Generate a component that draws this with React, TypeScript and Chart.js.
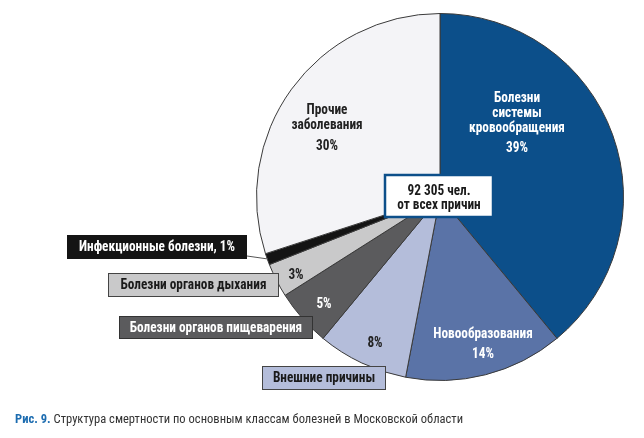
import React, { useEffect, useRef } from "react";
import { Chart, registerables } from "chart.js";
Chart.register(...registerables);

const categories = [
  "Болезни системы кровообращения",
  "Новообразования",
  "Внешние причины",
  "Болезни органов пищеварения",
  "Болезни органов дыхания",
  "Инфекционные болезни",
  "Прочие заболевания",
];
const shares = [39, 14, 8, 5, 3, 1, 30];
const sliceColors = ["#0c4f8a", "#5a73a7", "#b4bdda", "#5b5b5d", "#c9c9ca", "#141414", "#f4f4f7"];
const totalLines = ["92 305 чел.", "от всех причин"];
const captionBold = "Рис. 9.";
const captionText = " Структура смертности по основным классам болезней в Московской области";

const FONT = "'Liberation Sans Narrow', 'Roboto Condensed', 'Liberation Sans', sans-serif";

// inside labels: index, lines (percent appended), offsets relative to pie center
const innerLabels = [
  { i: 0, lines: ["Болезни", "системы", "кровообращения"], dx: 77, ys: [-99, -84, -69, -49], color: "#ffffff" },
  { i: 6, lines: ["Прочие", "заболевания"], dx: -113, ys: [-87, -72, -51], color: "#222222" },
  { i: 1, lines: ["Новообразования"], dx: 43, ys: [137, 157], color: "#ffffff" },
  { i: 2, lines: [], dx: -65, ys: [146], color: "#222222" },
  { i: 3, lines: [], dx: -116, ys: [107], color: "#ffffff" },
  { i: 4, lines: [], dx: -144, ys: [78], color: "#222222" },
];

// outside boxes
const outerBoxes = [
  { i: 5, text: (i: number) => `${categories[i]}, ${shares[i]}%`, x0: -373, x1: -193, y0: 38, y1: 62, fg: "#ffffff", border: null as string | null },
  { i: 4, text: (i: number) => categories[i], x0: -332, x1: -161, y0: 76, y1: 100, fg: "#1a1a1a", border: "#444444" },
  { i: 3, text: (i: number) => categories[i], x0: -321, x1: -127, y0: 119, y1: 142, fg: "#ffffff", border: "#333333" },
  { i: 2, text: (i: number) => categories[i], x0: -178, x1: -54, y0: 169, y1: 193, fg: "#1a1a1a", border: "#444444" },
];

function drawScaled(ctx: CanvasRenderingContext2D, text: string, x: number, y: number, sx: number) {
  ctx.save();
  ctx.translate(x, y);
  ctx.scale(sx, 1);
  ctx.fillText(text, 0, 0);
  ctx.restore();
}

const labelPlugin = {
  id: "labels",
  afterDraw(chart: any) {
    const meta = chart.getDatasetMeta(0);
    const arc = meta.data[0];
    if (!arc) return;
    const cx = arc.x, cy = arc.y;
    const ctx = chart.ctx as CanvasRenderingContext2D;
    const SX = 0.95;
    ctx.save();
    ctx.font = `bold 14px ${FONT}`;
    ctx.textAlign = "center";
    ctx.textBaseline = "middle";
    for (const l of innerLabels) {
      ctx.fillStyle = l.color;
      const all = [...l.lines, `${shares[l.i]}%`];
      all.forEach((t, k) => drawScaled(ctx, t, cx + l.dx, cy + l.ys[k], SX));
    }
    // leader line for infections
    ctx.strokeStyle = "#555";
    ctx.lineWidth = 1;
    ctx.beginPath();
    ctx.moveTo(cx - 193, cy + 59);
    ctx.lineTo(cx - 172, cy + 62);
    ctx.stroke();
    for (const b of outerBoxes) {
      const x = cx + b.x0, y = cy + b.y0, w = b.x1 - b.x0, h = b.y1 - b.y0;
      ctx.fillStyle = sliceColors[b.i];
      ctx.fillRect(x, y, w, h);
      if (b.border) {
        ctx.strokeStyle = b.border;
        ctx.lineWidth = 1;
        ctx.strokeRect(x + 0.5, y + 0.5, w - 1, h - 1);
      }
      ctx.fillStyle = b.fg;
      drawScaled(ctx, b.text(b.i), x + w / 2, y + h / 2 + 0.5, SX);
    }
    // center total box
    const bx = cx - 55, by = cy - 22, bw = 108, bh = 42;
    ctx.fillStyle = "#ffffff";
    ctx.fillRect(bx, by, bw, bh);
    ctx.strokeStyle = sliceColors[0];
    ctx.lineWidth = 2.5;
    ctx.strokeRect(bx, by, bw, bh);
    ctx.fillStyle = "#1a1a1a";
    drawScaled(ctx, totalLines[0], cx - 1, cy - 6, SX);
    drawScaled(ctx, totalLines[1], cx - 1, cy + 8, SX);
    // caption
    ctx.textAlign = "left";
    const CS = 0.965;
    ctx.font = `bold 13px ${FONT}`;
    ctx.fillStyle = "#1c6cb0";
    drawScaled(ctx, captionBold, 15, 420, CS);
    const w1 = ctx.measureText(captionBold).width * CS;
    ctx.font = `13px ${FONT}`;
    ctx.fillStyle = "#333333";
    drawScaled(ctx, captionText, 15 + w1, 420, CS);
    ctx.restore();
  },
};

export default function App() {
  const ref = useRef<HTMLCanvasElement | null>(null);
  useEffect(() => {
    if (!ref.current) return;
    const chart = new Chart(ref.current, {
      type: "pie",
      data: {
        labels: categories,
        datasets: [
          {
            data: shares,
            backgroundColor: sliceColors,
            borderColor: "#3a3a3a",
            borderWidth: 1,
          },
        ],
      },
      options: {
        responsive: false,
        animation: false,
        layout: { padding: { left: 256, right: 20, top: 13, bottom: 57 } },
        plugins: { legend: { display: false }, tooltip: { enabled: false }, title: { display: false } },
      },
      plugins: [labelPlugin],
    });
    return () => chart.destroy();
  }, []);
  return (
    <div style={{ position: "absolute", left: 0, top: 0, width: 644, height: 438, background: "#fff" }}>
      <canvas ref={ref} width={644} height={438} style={{ width: 644, height: 438 }} />
    </div>
  );
}
